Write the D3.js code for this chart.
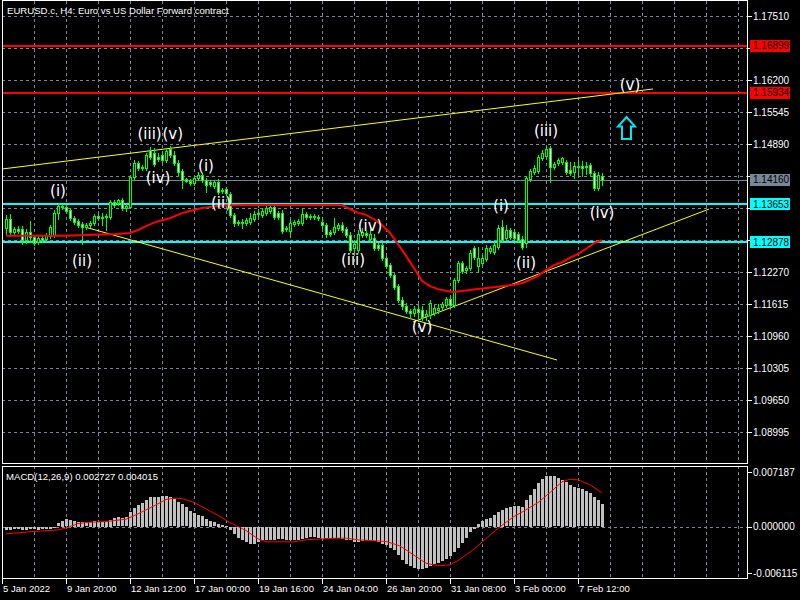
<!DOCTYPE html>
<html>
<head>
<meta charset="utf-8">
<script src="https://cdn.jsdelivr.net/npm/d3@7"></script>
<style>
body { margin: 0; background: #000; }
svg { display: block; }
text { font-family: "Liberation Sans", Arial, sans-serif; }
</style>
</head>
<body>
<script>
// EURUSD.c H4 candles (one bar per 4 hours)
var openP = [
	1.1317,1.1335,1.1309,1.1315,1.1315,1.1292,1.1309,1.1299,1.1288,1.1297,
	1.1294,1.1301,1.1303,1.1348,1.1362,1.1360,1.1354,1.1337,1.1331,1.1325,
	1.1319,1.1323,1.1327,1.1342,1.1337,1.1340,1.1340,1.1370,1.1368,1.1374,
	1.1358,1.1360,1.1421,1.1450,1.1440,1.1440,1.1477,1.1471,1.1462,1.1466,
	1.1456,1.1479,1.1466,1.1450,1.1434,1.1417,1.1413,1.1409,1.1419,1.1426,
	1.1415,1.1411,1.1403,1.1411,1.1395,1.1397,1.1387,1.1344,1.1329,1.1329,
	1.1327,1.1329,1.1335,1.1346,1.1344,1.1348,1.1352,1.1360,1.1348,1.1348,
	1.1315,1.1311,1.1325,1.1327,1.1327,1.1346,1.1342,1.1340,1.1340,1.1329,
	1.1323,1.1309,1.1309,1.1317,1.1323,1.1315,1.1303,1.1276,1.1272,1.1303,
	1.1307,1.1294,1.1297,1.1282,1.1282,1.1256,1.1241,1.1221,1.1198,1.1170,
	1.1157,1.1147,1.1143,1.1151,1.1149,1.1137,1.1139,1.1143,1.1149,1.1155,
	1.1160,1.1172,1.1160,1.1211,1.1245,1.1231,1.1235,1.1276,1.1239,1.1245,
	1.1254,1.1270,1.1268,1.1278,1.1319,1.1297,1.1313,1.1309,1.1305,1.1294,
	1.1286,1.1417,1.1432,1.1434,1.1460,1.1464,1.1481,1.1442,1.1450,1.1452,
	1.1452,1.1436,1.1432,1.1444,1.1444,1.1444,1.1446,1.1430,1.1399,1.1424];
var highP = [
	1.1344,1.1346,1.1319,1.1321,1.1321,1.1315,1.1331,1.1303,1.1301,1.1301,
	1.1307,1.1323,1.1354,1.1366,1.1366,1.1364,1.1358,1.1342,1.1335,1.1329,
	1.1327,1.1331,1.1346,1.1346,1.1348,1.1346,1.1374,1.1374,1.1376,1.1378,
	1.1366,1.1426,1.1456,1.1454,1.1446,1.1471,1.1483,1.1481,1.1471,1.1475,
	1.1481,1.1485,1.1475,1.1456,1.1438,1.1419,1.1417,1.1423,1.1432,1.1430,
	1.1419,1.1415,1.1415,1.1417,1.1399,1.1401,1.1391,1.1348,1.1333,1.1335,
	1.1337,1.1348,1.1352,1.1356,1.1358,1.1364,1.1364,1.1364,1.1352,1.1354,
	1.1321,1.1335,1.1333,1.1335,1.1358,1.1350,1.1346,1.1346,1.1344,1.1337,
	1.1327,1.1313,1.1337,1.1327,1.1329,1.1319,1.1309,1.1292,1.1313,1.1317,
	1.1311,1.1321,1.1305,1.1286,1.1286,1.1260,1.1245,1.1225,1.1202,1.1176,
	1.1164,1.1151,1.1157,1.1160,1.1157,1.1149,1.1170,1.1160,1.1162,1.1166,
	1.1176,1.1178,1.1215,1.1250,1.1250,1.1239,1.1272,1.1280,1.1278,1.1262,
	1.1282,1.1280,1.1288,1.1323,1.1333,1.1323,1.1317,1.1315,1.1309,1.1301,
	1.1423,1.1438,1.1446,1.1466,1.1477,1.1485,1.1485,1.1452,1.1460,1.1462,
	1.1456,1.1452,1.1452,1.1456,1.1454,1.1452,1.1450,1.1434,1.1432,1.1430];
var lowP = [
	1.1305,1.1301,1.1303,1.1307,1.1284,1.1286,1.1288,1.1282,1.1284,1.1288,
	1.1290,1.1297,1.1299,1.1335,1.1356,1.1348,1.1333,1.1325,1.1319,1.1284,
	1.1315,1.1319,1.1323,1.1333,1.1323,1.1313,1.1335,1.1360,1.1364,1.1354,
	1.1352,1.1358,1.1417,1.1436,1.1436,1.1436,1.1458,1.1444,1.1454,1.1452,
	1.1452,1.1462,1.1446,1.1426,1.1399,1.1411,1.1405,1.1405,1.1415,1.1411,
	1.1391,1.1403,1.1399,1.1387,1.1389,1.1385,1.1340,1.1321,1.1323,1.1317,
	1.1323,1.1325,1.1331,1.1342,1.1340,1.1344,1.1348,1.1335,1.1335,1.1307,
	1.1311,1.1299,1.1321,1.1323,1.1323,1.1335,1.1335,1.1335,1.1333,1.1317,
	1.1299,1.1301,1.1305,1.1313,1.1309,1.1299,1.1268,1.1268,1.1268,1.1299,
	1.1299,1.1290,1.1272,1.1272,1.1252,1.1235,1.1217,1.1192,1.1166,1.1151,
	1.1143,1.1133,1.1137,1.1129,1.1129,1.1129,1.1133,1.1139,1.1143,1.1151,
	1.1155,1.1155,1.1155,1.1207,1.1225,1.1225,1.1231,1.1254,1.1227,1.1241,
	1.1250,1.1266,1.1264,1.1274,1.1288,1.1292,1.1294,1.1292,1.1288,1.1274,
	1.1278,1.1413,1.1428,1.1430,1.1456,1.1460,1.1411,1.1438,1.1446,1.1448,
	1.1428,1.1426,1.1419,1.1423,1.1423,1.1428,1.1423,1.1395,1.1395,1.1405];
var closeP = [
	1.1335,1.1309,1.1315,1.1311,1.1292,1.1309,1.1299,1.1286,1.1297,1.1292,
	1.1303,1.1319,1.1348,1.1362,1.1360,1.1352,1.1337,1.1329,1.1323,1.1319,
	1.1323,1.1327,1.1342,1.1337,1.1340,1.1342,1.1370,1.1364,1.1374,1.1358,
	1.1362,1.1421,1.1450,1.1440,1.1442,1.1466,1.1462,1.1448,1.1458,1.1456,
	1.1475,1.1466,1.1450,1.1432,1.1415,1.1413,1.1409,1.1419,1.1426,1.1415,
	1.1405,1.1407,1.1411,1.1391,1.1393,1.1389,1.1344,1.1327,1.1327,1.1327,
	1.1333,1.1337,1.1346,1.1348,1.1352,1.1358,1.1360,1.1340,1.1340,1.1311,
	1.1317,1.1327,1.1329,1.1331,1.1346,1.1340,1.1340,1.1342,1.1337,1.1323,
	1.1305,1.1305,1.1319,1.1323,1.1313,1.1303,1.1272,1.1284,1.1305,1.1309,
	1.1303,1.1305,1.1276,1.1276,1.1256,1.1239,1.1221,1.1196,1.1170,1.1157,
	1.1147,1.1143,1.1151,1.1145,1.1135,1.1141,1.1164,1.1153,1.1153,1.1162,
	1.1172,1.1160,1.1211,1.1245,1.1229,1.1235,1.1266,1.1258,1.1256,1.1256,
	1.1276,1.1276,1.1282,1.1317,1.1292,1.1313,1.1299,1.1297,1.1292,1.1278,
	1.1419,1.1434,1.1440,1.1462,1.1471,1.1479,1.1442,1.1448,1.1456,1.1460,
	1.1432,1.1430,1.1444,1.1442,1.1440,1.1442,1.1430,1.1399,1.1426,1.1416];

// red moving average, read at these bars
var maIdx = [0,15,22,28,31,33,35,37,39,41,43,45,47,49,51,54,60,84,86,88,90,92,94,96,98,100,102,104,106,108,110,112,114,118,122,126,129,131,133,135,137,139,141,143,145,147,149];
var maVal = [1.1301,1.1301,1.1303,1.1305,1.1307,1.1313,1.1321,1.1328,1.1333,1.1337,1.1344,1.1350,1.1354,1.1358,1.1360,1.1363,1.1364,1.1364,1.1356,1.1348,1.1344,1.1335,1.1323,1.1307,1.1284,1.1260,1.1235,1.1209,1.1198,1.1192,1.1188,1.1186,1.1188,1.1192,1.1196,1.1200,1.1204,1.1211,1.1219,1.1231,1.1241,1.1247,1.1256,1.1264,1.1274,1.1286,1.1292];

// MACD(12,26,9) histogram, one per bar
var macdHist = [
	-0.00040,-0.00032,-0.00028,-0.00028,-0.00032,-0.00032,-0.00028,-0.00028,-0.00032,-0.00028,
	-0.00024,-0.00020,-0.00012,0.00040,0.00071,0.00087,0.00079,0.00071,0.00059,0.00059,
	0.00051,0.00059,0.00067,0.00055,0.00059,0.00059,0.00079,0.00099,0.00111,0.00099,
	0.00111,0.00178,0.00218,0.00257,0.00285,0.00317,0.00345,0.00356,0.00356,0.00364,
	0.00364,0.00348,0.00325,0.00297,0.00265,0.00230,0.00190,0.00166,0.00139,0.00119,
	0.00087,0.00071,0.00048,0.00032,0.00020,0.00004,-0.00040,-0.00087,-0.00127,-0.00158,
	-0.00178,-0.00198,-0.00198,-0.00178,-0.00158,-0.00150,-0.00150,-0.00150,-0.00143,-0.00143,
	-0.00150,-0.00158,-0.00158,-0.00150,-0.00143,-0.00127,-0.00119,-0.00119,-0.00127,-0.00139,
	-0.00131,-0.00127,-0.00127,-0.00131,-0.00143,-0.00150,-0.00158,-0.00178,-0.00178,-0.00166,
	-0.00158,-0.00158,-0.00166,-0.00178,-0.00198,-0.00218,-0.00246,-0.00277,-0.00337,-0.00396,
	-0.00436,-0.00467,-0.00483,-0.00495,-0.00495,-0.00483,-0.00467,-0.00444,-0.00428,-0.00404,
	-0.00376,-0.00348,-0.00297,-0.00246,-0.00190,-0.00127,-0.00059,-0.00020,0.00032,0.00067,
	0.00091,0.00099,0.00139,0.00178,0.00198,0.00218,0.00230,0.00238,0.00238,0.00226,
	0.00309,0.00376,0.00444,0.00515,0.00562,0.00602,0.00602,0.00594,0.00574,0.00554,
	0.00523,0.00495,0.00475,0.00455,0.00444,0.00416,0.00396,0.00348,0.00309,0.002727];
// signal line, read at these bars
var sigIdx = [0,5,7,13,15,18,21,25,30,33,37,40,42,44,47,50,53,56,60,63,65,72,75,78,82,85,88,91,95,98,99,102,105,108,111,113,117,120,123,127,130,133,136,139,141,143,146,149];
var sigVal = [-0.00087,-0.00067,-0.00059,-0.00040,-0.00020,0.00036,0.00051,0.00059,0.00087,0.00150,0.00245,0.00321,0.00337,0.00333,0.00285,0.00210,0.00131,0.00048,-0.00048,-0.00147,-0.00182,-0.00182,-0.00158,-0.00150,-0.00139,-0.00139,-0.00158,-0.00166,-0.00178,-0.00222,-0.00246,-0.00341,-0.00436,-0.00467,-0.00455,-0.00404,-0.00269,-0.00143,-0.00020,0.00119,0.00198,0.00285,0.00404,0.00531,0.00562,0.00554,0.00495,0.004015];

var priceTicks = [1.17510,1.16855,1.16200,1.15545,1.14890,1.14235,1.13580,1.12925,1.12270,1.11615,1.10960,1.10305,1.09650,1.08995];
var timeLabels = ['5 Jan 2022','9 Jan 20:00','12 Jan 12:00','17 Jan 00:00','19 Jan 16:00','24 Jan 04:00','26 Jan 20:00','31 Jan 08:00','3 Feb 00:00','7 Feb 12:00'];
var timeIdx = [-1,15,31,47,63,79,95,111,127,143];
var macdTicks = [0.007187, 0.000000, -0.006115];

// horizontal levels and the bid line
var levelPrice = [1.16899, 1.15934, 1.13653, 1.12878];
var levelColor = ['#ff0000', '#ff0000', '#00ffff', '#00ffff'];
var bidPrice = 1.14160;

// trendlines: [bar1, price1, bar2, price2]
var trendLines = [
	[-1, 1.14378, 161.75, 1.16016],
	[19.75, 1.13190, 137.75, 1.10469],
	[101.75, 1.11246, 175.75, 1.13558]];

// Elliott wave marks
var waveText = ['(i)','(ii)','(iii)','(v)','(iv)','(i)','(ii)','(iv)','(iii)','(v)','(i)','(ii)','(iii)','(iv)','(v)'];
var waveIdx = [13, 19, 35.9, 41.7, 38, 50, 53.75, 91, 86.75, 104, 123.75, 130, 135, 149, 156];
var wavePrice = [1.1393, 1.1250, 1.1511, 1.1511, 1.1421, 1.1444, 1.1370, 1.1321, 1.1252, 1.1116, 1.1362, 1.1247, 1.1516, 1.1348, 1.1610];
var arrowIdx = 155, arrowPrice = 1.15463;

var width = 800, height = 600;
var left = 2, right = 747, mainTop = 1, mainBottom = 464, macdTop = 466, macdBottom = 578;
var gridColor = '#778899';

var svg = d3.select('body').append('svg')
	.attr('width', width)
	.attr('height', height)
	.style('background', '#000');

//Bars are spaced 4px apart.
var x = d3.scaleLinear().domain([-1, 185.25]).range([left, right]);
var y = d3.scaleLinear().domain([1.08995, 1.17510]).range([432, 16]);
var m = d3.scaleLinear().domain([-0.006115, 0.007187]).range([macdBottom, macdTop]);
var px = function(v) { return Math.round(v) + 0.5; };

svg.append('clipPath').attr('id', 'mainClip').append('rect')
	.attr('x', left).attr('y', mainTop).attr('width', right - left).attr('height', mainBottom - mainTop);
svg.append('clipPath').attr('id', 'macdClip').append('rect')
	.attr('x', left).attr('y', macdTop).attr('width', right - left).attr('height', macdBottom - macdTop);

var main = svg.append('g').attr('clip-path', 'url(#mainClip)');
var sub = svg.append('g').attr('clip-path', 'url(#macdClip)');

//Grid
var vGrid = d3.range(7, 185, 8);
main.selectAll('.vg').data(vGrid).enter().append('line')
	.attr('x1', function(d) { return px(x(d)); }).attr('x2', function(d) { return px(x(d)); })
	.attr('y1', mainTop).attr('y2', mainBottom)
	.attr('stroke', gridColor).attr('stroke-dasharray', '3,3');
main.selectAll('.hg').data(priceTicks).enter().append('line')
	.attr('x1', left).attr('x2', right)
	.attr('y1', function(d) { return px(y(d)); }).attr('y2', function(d) { return px(y(d)); })
	.attr('stroke', gridColor).attr('stroke-dasharray', '3,3');
sub.selectAll('.vg').data(vGrid).enter().append('line')
	.attr('x1', function(d) { return px(x(d)); }).attr('x2', function(d) { return px(x(d)); })
	.attr('y1', macdTop).attr('y2', macdBottom)
	.attr('stroke', gridColor).attr('stroke-dasharray', '3,3');
sub.append('line')
	.attr('x1', left).attr('x2', right)
	.attr('y1', px(m(0))).attr('y2', px(m(0)))
	.attr('stroke', gridColor).attr('stroke-dasharray', '3,3');

//Levels
main.selectAll('.lvl').data(levelPrice).enter().append('line')
	.attr('x1', left).attr('x2', right)
	.attr('y1', function(d) { return Math.round(y(d)); }).attr('y2', function(d) { return Math.round(y(d)); })
	.attr('stroke', function(d, i) { return levelColor[i]; })
	.attr('stroke-width', 2);
main.append('line')
	.attr('x1', left).attr('x2', right)
	.attr('y1', px(y(bidPrice))).attr('y2', px(y(bidPrice)))
	.attr('stroke', gridColor);

//Trendlines
main.selectAll('.tl').data(trendLines).enter().append('line')
	.attr('x1', function(d) { return x(d[0]); }).attr('y1', function(d) { return y(d[1]); })
	.attr('x2', function(d) { return x(d[2]); }).attr('y2', function(d) { return y(d[3]); })
	.attr('stroke', '#ffff00').attr('stroke-width', 1);

//Candles
var bars = d3.range(openP.length);
var candle = main.selectAll('.candle').data(bars).enter().append('g').attr('class', 'candle');
candle.append('line')
	.attr('x1', function(i) { return Math.round(x(i)) + 0.5; })
	.attr('x2', function(i) { return Math.round(x(i)) + 0.5; })
	.attr('y1', function(i) { return Math.round(y(highP[i])); })
	.attr('y2', function(i) { return Math.round(y(lowP[i])) + 1; })
	.attr('stroke', '#00ff00');
candle.append('rect')
	.attr('x', function(i) { return Math.round(x(i)) - 0.5; })
	.attr('y', function(i) { return px(y(Math.max(openP[i], closeP[i]))); })
	.attr('width', 2)
	.attr('height', function(i) { return Math.max(0, Math.round(y(Math.min(openP[i], closeP[i]))) - Math.round(y(Math.max(openP[i], closeP[i])))); })
	.attr('fill', function(i) { return closeP[i] >= openP[i] ? '#000' : '#fff'; })
	.attr('stroke', '#00ff00');

//Moving average
main.append('path')
	.datum(maIdx)
	.attr('d', d3.line().x(function(d) { return x(d); }).y(function(d, k) { return y(maVal[k]); }))
	.attr('fill', 'none').attr('stroke', '#ff0000').attr('stroke-width', 2);

//Wave labels
main.selectAll('.wave').data(waveText).enter().append('text')
	.attr('x', function(d, k) { return x(waveIdx[k]); })
	.attr('y', function(d, k) { return y(wavePrice[k]); })
	.attr('dy', '0.36em')
	.attr('text-anchor', 'middle')
	.style('font-family', '"DejaVu Sans", sans-serif')
	.style('font-size', '15px')
	.attr('fill', '#fff')
	.text(function(d) { return d; });

//Arrow
main.append('path')
	.attr('transform', 'translate(' + (x(arrowIdx) + 0.5) + ',' + (y(arrowPrice) + 1) + ')')
	.attr('d', 'M0,0 L8.5,9.5 L4.5,9.5 L4.5,22 L-4.5,22 L-4.5,9.5 L-8.5,9.5 Z')
	.attr('fill', '#000').attr('stroke', '#00e5ee').attr('stroke-width', 2)
	.attr('stroke-linejoin', 'miter');

//MACD histogram and signal
sub.selectAll('.hist').data(macdHist).enter().append('rect')
	.attr('x', function(d, i) { return Math.round(x(i)) - 1; })
	.attr('y', function(d) { return Math.round(Math.min(m(d), m(0))); })
	.attr('width', 3)
	.attr('height', function(d) { return Math.max(1, Math.round(Math.abs(m(d) - m(0)))); })
	.attr('fill', '#c0c0c0');
sub.append('path')
	.datum(sigIdx)
	.attr('d', d3.line().x(function(d) { return x(d); }).y(function(d, k) { return m(sigVal[k]); }))
	.attr('fill', 'none').attr('stroke', '#ff0000').attr('stroke-width', 1);

//Frames
svg.append('rect').attr('x', left + 0.5).attr('y', mainTop - 0.5).attr('width', right - left).attr('height', mainBottom - mainTop)
	.attr('fill', 'none').attr('stroke', '#fff');
svg.append('rect').attr('x', left + 0.5).attr('y', macdTop + 0.5).attr('width', right - left).attr('height', macdBottom - macdTop)
	.attr('fill', 'none').attr('stroke', '#fff');

//Price axis. Tick labels that sit under a price tag are covered, so skip them.
var axisFont = '10px';
var tagPrice = levelPrice.concat([bidPrice]);
var tagColor = levelColor.concat([gridColor]);
var visibleTicks = priceTicks.filter(function(p) {
	return tagPrice.every(function(t) { return Math.abs(y(p) - y(t)) > 11; });
});
var pAxis = svg.append('g');
pAxis.selectAll('line').data(priceTicks).enter().append('line')
	.attr('x1', right).attr('x2', right + 5)
	.attr('y1', function(d) { return px(y(d)); }).attr('y2', function(d) { return px(y(d)); })
	.attr('stroke', '#fff');
pAxis.selectAll('text').data(visibleTicks).enter().append('text')
	.attr('x', right + 6).attr('y', function(d) { return y(d); }).attr('dy', '0.35em')
	.attr('fill', '#fff').style('font-size', axisFont)
	.text(function(d) { return d.toFixed(5); });

var tags = svg.selectAll('.tag').data(tagPrice).enter().append('g');
tags.append('rect')
	.attr('x', right + 3).attr('y', function(d) { return Math.round(y(d)) - 6; })
	.attr('width', 40).attr('height', 12)
	.attr('fill', function(d, i) { return tagColor[i]; });
tags.append('text')
	.attr('x', right + 6).attr('y', function(d) { return y(d); }).attr('dy', '0.35em')
	.attr('fill', '#000').style('font-size', axisFont)
	.text(function(d) { return d.toFixed(5); });

//MACD axis
var mAxis = svg.append('g');
mAxis.selectAll('line').data(macdTicks).enter().append('line')
	.attr('x1', right).attr('x2', right + 5)
	.attr('y1', function(d) { return px(m(d)) + (d > 0 ? 6 : d < 0 ? -5 : 0); })
	.attr('y2', function(d) { return px(m(d)) + (d > 0 ? 6 : d < 0 ? -5 : 0); })
	.attr('stroke', '#fff');
mAxis.selectAll('text').data(macdTicks).enter().append('text')
	.attr('x', right + 6).attr('y', function(d) { return m(d) + (d > 0 ? 6 : d < 0 ? -5 : 0); }).attr('dy', '0.35em')
	.attr('fill', '#fff').style('font-size', axisFont)
	.text(function(d) { return d.toFixed(6); });

//Time axis
var tAxis = svg.append('g');
tAxis.selectAll('line').data(timeIdx).enter().append('line')
	.attr('x1', function(d) { return px(x(d)); }).attr('x2', function(d) { return px(x(d)); })
	.attr('y1', macdBottom).attr('y2', macdBottom + 6)
	.attr('stroke', '#fff');
tAxis.selectAll('text').data(timeLabels).enter().append('text')
	.attr('x', function(d, k) { return x(timeIdx[k]) + 1; }).attr('y', 592)
	.attr('fill', '#fff').style('font-size', '9.5px')
	.text(function(d) { return d; });

//Titles
svg.append('text').attr('x', 7).attr('y', 14)
	.attr('fill', '#fff').style('font-size', '9.6px')
	.text('EURUSD.c, H4:  Euro vs US Dollar Forward contract');
svg.append('text').attr('x', 6).attr('y', 480)
	.attr('fill', '#fff').style('font-size', '9.6px')
	.text('MACD(12,26,9) 0.002727 0.004015');
</script>
</body>
</html>
